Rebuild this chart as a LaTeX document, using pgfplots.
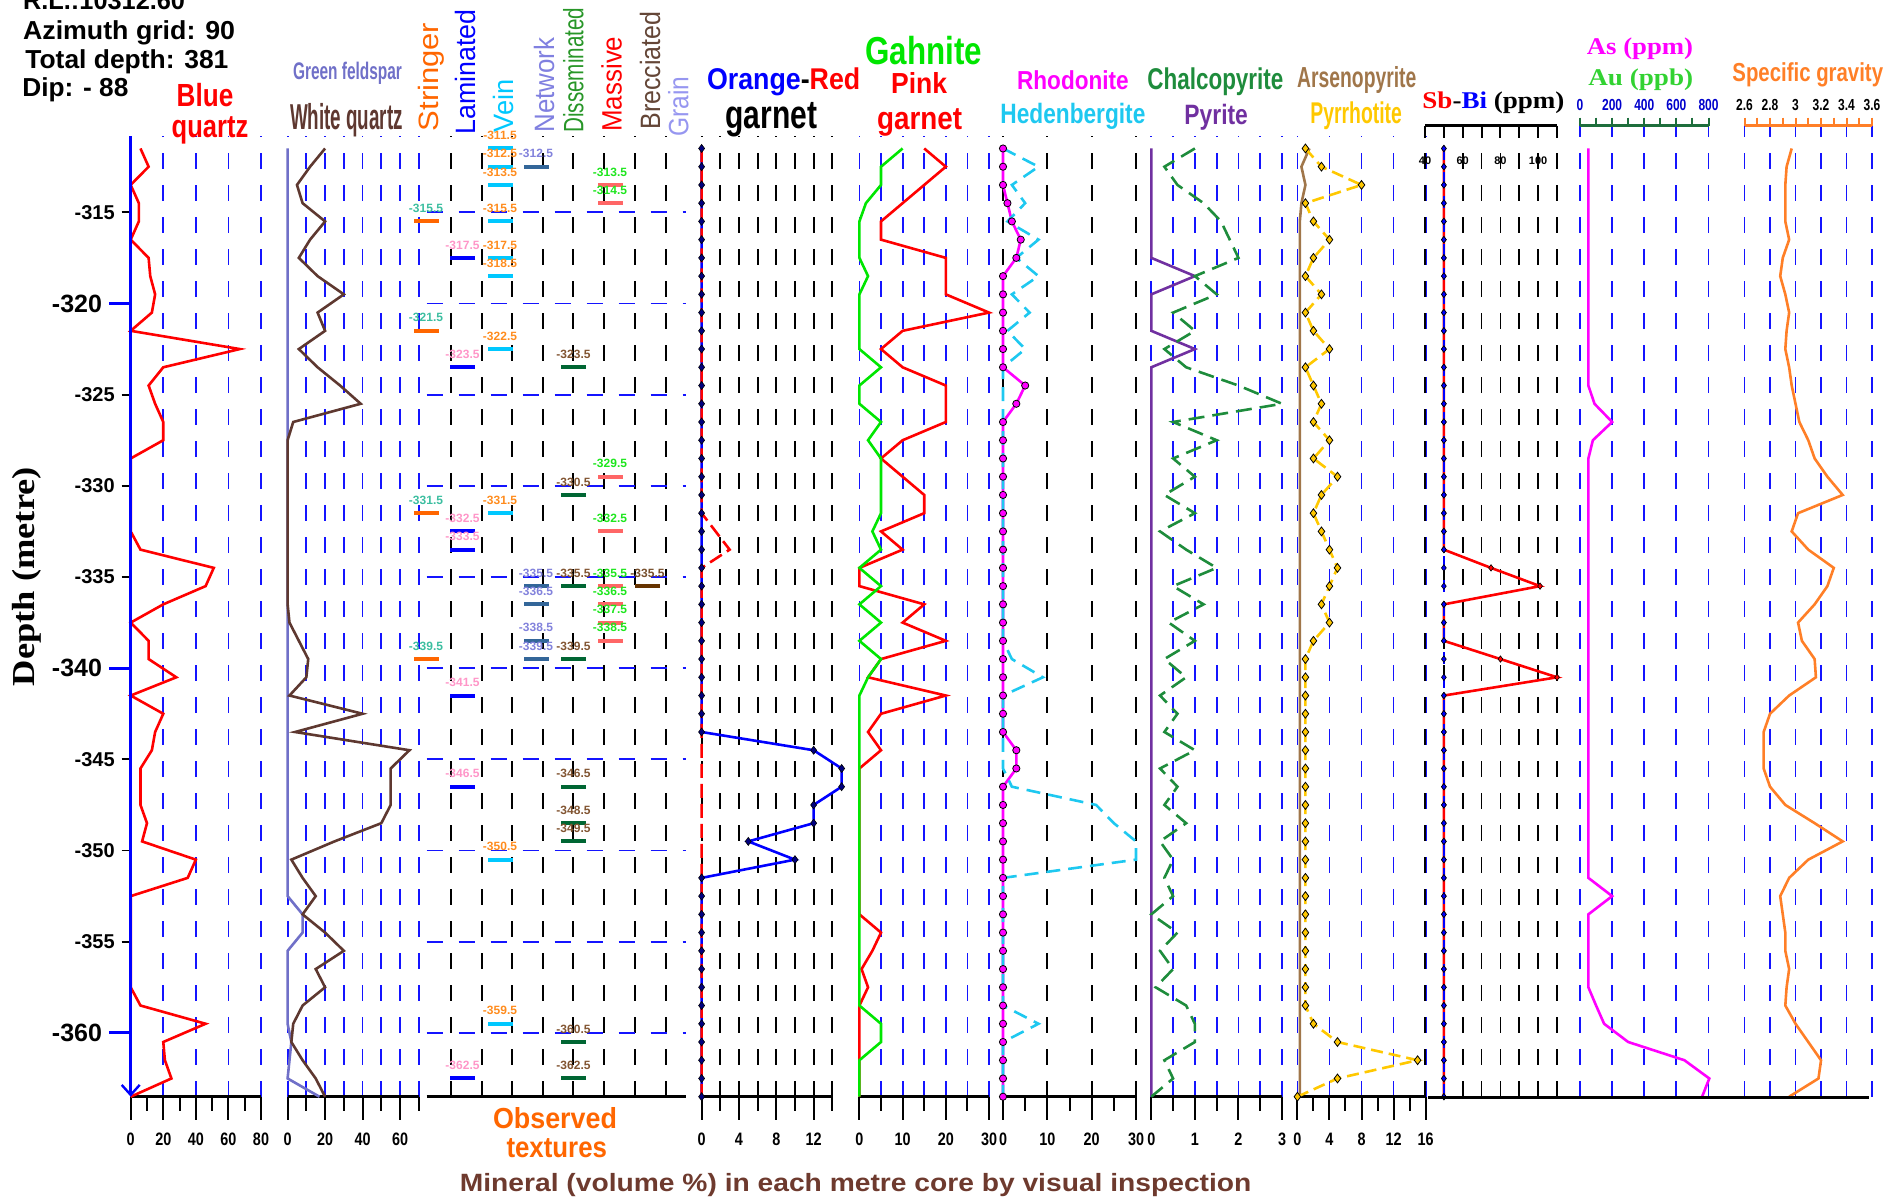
\documentclass[border=0pt]{standalone}
\usepackage{fontspec}
\setmainfont{Liberation Sans}
\newfontfamily\tnr{Liberation Serif}
\usepackage{graphicx}
\usepackage{pgfplots}
\usepackage{pgfplotstable}
\pgfplotsset{compat=1.18}
\usetikzlibrary{arrows.meta}

% squeeze a text to a given width, keeping its height
\newcommand{\fw}[2]{\resizebox{#1}{\height}{#2}}

\definecolor{gridblue}{RGB}{20,20,255}
\definecolor{mag}{RGB}{255,0,255}
\definecolor{wqbrown}{RGB}{94,56,48}
\definecolor{gfpurple}{RGB}{112,112,200}
\definecolor{strO}{RGB}{255,102,0}
\definecolor{lamB}{RGB}{0,0,255}
\definecolor{veinC}{RGB}{0,200,255}
\definecolor{netB}{RGB}{51,102,153}
\definecolor{disG}{RGB}{0,102,51}
\definecolor{masR}{RGB}{255,102,102}
\definecolor{breB}{RGB}{102,51,0}
\definecolor{strL}{RGB}{60,190,160}
\definecolor{lamL}{RGB}{255,150,200}
\definecolor{veinL}{RGB}{255,140,30}
\definecolor{netL}{RGB}{130,130,220}
\definecolor{disL}{RGB}{130,85,50}
\definecolor{masL}{RGB}{30,230,30}
\definecolor{breL}{RGB}{120,80,45}
\definecolor{netH}{RGB}{128,128,224}
\definecolor{disH}{RGB}{40,150,40}
\definecolor{breH}{RGB}{100,70,55}
\definecolor{graH}{RGB}{150,150,240}
\definecolor{gahG}{RGB}{0,230,0}
\definecolor{hedC}{RGB}{30,200,240}
\definecolor{ccpG}{RGB}{30,140,60}
\definecolor{pyP}{RGB}{112,48,160}
\definecolor{apyB}{RGB}{160,118,74}
\definecolor{poY}{RGB}{255,200,0}
\definecolor{auG}{RGB}{50,210,50}
\definecolor{sgO}{RGB}{255,127,39}
\definecolor{minB}{RGB}{110,58,46}
\definecolor{asAx}{RGB}{30,110,60}

% depth (m) and volume % of each mineral, one row per metre of core
\pgfplotstableread{
d      bq wq gf
-311.5 6  20 0
-312.5 11 12 0
-313.5 0  5  0
-314.5 5  8  0
-315.5 5  20 0
-316.5 0  12 0
-317.5 11 6  0
-318.5 12 16 0
-319.5 15 30 0
-320.5 13 16 0
-321.5 0  20 0
-322.5 67 6  0
-323.5 20 16 0
-324.5 11 28 0
-325.5 15 39 0
-326.5 20 3  0
-327.5 20 0  0
-328.5 0  0  0
-329.5 0  0  0
-330.5 0  0  0
-331.5 0  0  0
-332.5 0  0  0
-333.5 6  0  0
-334.5 51 0  0
-335.5 46 0  0
-336.5 20 0  0
-337.5 0  1  0
-338.5 11 6  0
-339.5 11 11 0
-340.5 28 10 0
-341.5 0  1  0
-342.5 20 40 0
-343.5 15 4  0
-344.5 13 65 0
-345.5 6  55 0
-346.5 6  55 0
-347.5 6  55 0
-348.5 10 50 0
-349.5 7  25 0
-350.5 40 2  0
-351.5 35 8  0
-352.5 0  15 0
-353.5 0  8  8
-354.5 0  20 8
-355.5 0  30 0
-356.5 0  15 0
-357.5 0  20 0
-358.5 6  8  0
-359.5 46 3  0
-360.5 20 2  2
-361.5 21 8  1
-362.5 25 15 0
-363.5 0  20 17
}\quartz

\pgfplotstableread{
d      og rg  gah pg
-311.5 0  0   10  15
-312.5 0  0   5   20
-313.5 0  0   5   15
-314.5 0  0   1.5 10
-315.5 0  0   0   5
-316.5 0  0   0   5
-317.5 0  0   0   20
-318.5 0  0   2   20
-319.5 0  0   0   20
-320.5 0  0   0   30
-321.5 0  0   0   10
-322.5 0  0   0   5
-323.5 0  0   5   10
-324.5 0  0   0   20
-325.5 0  0   0   20
-326.5 0  0   5   20
-327.5 0  0   2   10
-328.5 0  0   5   5
-329.5 0  0   5   10
-330.5 0  0   5   15
-331.5 0  0   5   15
-332.5 0  1.5 3   5
-333.5 0  3   5   10
-334.5 0  0   0   0
-335.5 0  0   5   0
-336.5 0  0   0   15
-337.5 0  0   5   10
-338.5 0  0   0   20
-339.5 0  0   5   5
-340.5 0  0   2   2
-341.5 0  0   0   20
-342.5 0  0   0   5
-343.5 0  0   0   2
-344.5 12 0   0   5
-345.5 15 0   0   0
-346.5 15 0   0   0
-347.5 12 0   0   0
-348.5 12 0   0   0
-349.5 5  0   0   0
-350.5 10 0   0   0
-351.5 0  0   0   0
-352.5 0  0   0   0
-353.5 0  0   0   0
-354.5 0  0   0   5
-355.5 0  0   0   3
-356.5 0  0   0   0.5
-357.5 0  0   0   2
-358.5 0  0   0   0
-359.5 0  0   5   0
-360.5 0  0   5   0
-361.5 0  0   0   0
-362.5 0  0   0   0
-363.5 0  0   0   0
}\garnet

\pgfplotstableread{
d      rho hed
-311.5 0   0
-312.5 0   8
-313.5 0   2
-314.5 1   5
-315.5 2   1
-316.5 4   8
-317.5 3   3
-318.5 0   8
-319.5 0   2
-320.5 0   6
-321.5 0   1
-322.5 0   5
-323.5 0   0
-324.5 5   0
-325.5 3   0
-326.5 0   0
-327.5 0   0
-328.5 0   0
-329.5 0   0
-330.5 0   0
-331.5 0   0
-332.5 0   0
-333.5 0   0
-334.5 0   0
-335.5 0   0
-336.5 0   0
-337.5 0   0
-338.5 0   0
-339.5 0   2
-340.5 0   9
-341.5 0   0
-342.5 0   0
-343.5 0   0
-344.5 3   0
-345.5 3   0
-346.5 0   2
-347.5 0   21
-348.5 0   25
-349.5 0   30
-350.5 0   30
-351.5 0   0
-352.5 0   0
-353.5 0   0
-354.5 0   0
-355.5 0   0
-356.5 0   0
-357.5 0   0
-358.5 0   0
-359.5 0   8
-360.5 0   0
-361.5 0   0
-362.5 0   0
-363.5 0   0
}\silic

\pgfplotstableread{
d      ccp py apy po
-311.5 1   0  1.5 1
-312.5 0.3 0  0.5 3
-313.5 0.6 0  1   8
-314.5 1.2 0  0.5 1
-315.5 1.6 0  0.3 2
-316.5 1.8 0  0.3 4
-317.5 2   0  0.3 2
-318.5 1   1  0.3 1
-319.5 1.5 0  0.3 3
-320.5 0.5 0  0.3 1
-321.5 1   0  0.3 2
-322.5 0.3 1  0.3 4
-323.5 0.8 0  0.3 1
-324.5 2   0  0.3 2
-325.5 3   0  0.3 3
-326.5 0.5 0  0.3 2
-327.5 1.5 0  0.3 4
-328.5 0.5 0  0.3 2
-329.5 1   0  0.3 5
-330.5 0.3 0  0.3 3
-331.5 1   0  0.3 2
-332.5 0.2 0  0.3 3
-333.5 0.8 0  0.3 4
-334.5 1.5 0  0.3 5
-335.5 0.5 0  0.3 4
-336.5 1.2 0  0.3 3
-337.5 0.4 0  0.3 4
-338.5 1   0  0.3 2
-339.5 0.3 0  0.3 1
-340.5 0.8 0  0.3 1
-341.5 0.2 0  0.3 1
-342.5 0.6 0  0.3 1
-343.5 0.3 0  0.3 1
-344.5 1   0  0.3 1
-345.5 0.2 0  0.3 1
-346.5 0.6 0  0.3 1
-347.5 0.3 0  0.3 1
-348.5 0.8 0  0.3 1
-349.5 0.2 0  0.3 1
-350.5 0.5 0  0.3 1
-351.5 0.3 0  0.3 1
-352.5 0.5 0  0.3 1
-353.5 0   0  0.3 1
-354.5 0.6 0  0.3 1
-355.5 0.2 0  0.3 1
-356.5 0.5 0  0.3 1
-357.5 0.1 0  0.3 1
-358.5 0.8 0  0.3 1
-359.5 1   0  0.3 2
-360.5 1   0  0.3 5
-361.5 0.3 0  0.3 15
-362.5 0.5 0  0.3 5
-363.5 0   0  0.3 0
}\sulph

\pgfplotstableread{
d      sb  bi as  sg
-311.5 50  50 52  2.97
-312.5 50  50 52  2.93
-313.5 50  50 52  2.92
-314.5 50  50 52  2.92
-315.5 50  50 52  2.92
-316.5 50  50 52  2.95
-317.5 50  50 52  2.90
-318.5 50  50 52  2.88
-319.5 50  50 52  2.92
-320.5 50  50 52  2.95
-321.5 50  50 52  2.93
-322.5 50  50 52  2.92
-323.5 50  50 52  2.95
-324.5 50  50 52  2.97
-325.5 50  50 90  3.00
-326.5 50  50 200 3.03
-327.5 50  50 80  3.10
-328.5 50  50 52  3.15
-329.5 50  50 52  3.25
-330.5 50  50 52  3.37
-331.5 50  50 52  3.02
-332.5 50  50 52  2.97
-333.5 50  50 52  3.10
-334.5 75  50 52  3.30
-335.5 101 50 52  3.25
-336.5 50  50 52  3.15
-337.5 50  50 52  3.02
-338.5 50  50 52  3.05
-339.5 80  50 52  3.15
-340.5 110 50 52  3.16
-341.5 50  50 52  2.95
-342.5 50  50 52  2.80
-343.5 50  50 52  2.75
-344.5 50  50 52  2.75
-345.5 50  50 52  2.75
-346.5 50  50 52  2.80
-347.5 50  50 52  2.92
-348.5 50  50 52  3.15
-349.5 50  50 52  3.37
-350.5 50  50 52  3.10
-351.5 50  50 52  2.95
-352.5 50  50 200 2.88
-353.5 50  50 52  2.90
-354.5 50  50 52  2.92
-355.5 50  50 52  2.92
-356.5 50  50 52  2.95
-357.5 50  50 52  2.93
-358.5 50  50 100 2.92
-359.5 50  50 150 3.00
-360.5 50  50 300 3.10
-361.5 50  50 650 3.20
-362.5 50  50 805 3.18
-363.5 50  50 760 2.95
}\geochem

\pgfplotsset{
  trk/.style={scale only axis, anchor=south west, height=480.5pt,
    ymin=-363.5, ymax=-310.8,
    axis x line*=bottom, axis y line*=left, y axis line style={draw=none}, ytick=\empty,
    x axis line style={line width=1.5pt, -}, tick align=outside,
    xtick style={black, line width=1pt}, major tick length=11.5pt, minor tick length=7pt,
    xticklabel style={font=\fontsize{9}{10}\selectfont\bfseries, xscale=0.8, yshift=-3pt},
    clip=false, every axis plot/.append style={line width=1.3pt}},
  topt/.style={scale only axis, anchor=south west, height=485.5pt,
    ymin=-363.5, ymax=-310.25,
    axis x line*=top, axis y line*=left, y axis line style={draw=none}, ytick=\empty,
    clip=false, every axis plot/.append style={line width=1.3pt}},
  bgrid/.style={major x grid style={gridblue, line width=0.9pt, dash pattern=on 8pt off 8pt},
    minor x grid style={gridblue, line width=0.9pt, dash pattern=on 8pt off 8pt}},
  kgrid/.style={major x grid style={black, line width=0.9pt, dash pattern=on 8pt off 8pt},
    minor x grid style={black, line width=0.9pt, dash pattern=on 8pt off 8pt}},
  tex/.style={only marks, mark=-, mark size=6.25pt, mark options={#1, line width=2pt},
    nodes near coords, point meta=explicit symbolic},
}

\begin{document}
\begin{tikzpicture}
\useasboundingbox (0,0) rectangle (952pt,-601.5pt);

% ---------- Blue quartz
\begin{axis}[trk, at={(65.35pt,-548.35pt)}, width=65.15pt, xmin=0, xmax=80,
  xtick={0,20,40,60,80}, minor xtick={10,30,50,70}, xticklabels={0,20,40,60,80},
  xmajorgrids, bgrid]
\addplot[red] table[x=bq, y=d] {\quartz};
\end{axis}
% depth scale, ordinary ticks
\begin{axis}[scale only axis, anchor=south west, at={(65.35pt,-548.35pt)},
  width=65.15pt, height=480.5pt, xmin=0, xmax=1, ymin=-363.5, ymax=-310.8,
  hide x axis, axis y line*=left, tick align=outside,
  y axis line style={blue, line width=1.5pt, {Straight Barb[length=5pt,width=9pt,line width=1.2pt]}-},
  major tick length=4.5pt, ytick style={black, line width=0.9pt},
  ytick={-315,-325,-330,-335,-345,-350,-355},
  yticklabels={-315,-325,-330,-335,-345,-350,-355},
  yticklabel style={font=\fontsize{10}{11}\selectfont\bfseries}]
\end{axis}
% depth scale, every 20 m
\begin{axis}[scale only axis, anchor=south west, at={(65.35pt,-548.35pt)},
  width=65.15pt, height=480.5pt, xmin=0, xmax=1, ymin=-363.5, ymax=-310.8,
  hide x axis, axis y line*=left, tick align=outside,
  y axis line style={draw=none},
  major tick length=10.8pt, ytick style={blue, line width=1.6pt},
  ytick={-320,-340,-360}, yticklabels={-320,-340,-360},
  yticklabel style={font=\fontsize{12.5}{13}\selectfont\bfseries}]
\end{axis}

% ---------- White quartz / green feldspar
\begin{axis}[trk, at={(143.8pt,-548.35pt)}, width=65.6pt, xmin=0, xmax=70,
  xtick={0,20,40,60}, minor xtick={10,30,50,70}, xticklabels={0,20,40,60},
  xmajorgrids, xminorgrids, bgrid]
\addplot[gfpurple] table[x=gf, y=d] {\quartz};
\addplot[wqbrown] table[x=wq, y=d] {\quartz};
\end{axis}

% ---------- Observed textures
\begin{axis}[trk, at={(213.25pt,-548.35pt)}, width=129.75pt, xmin=426.5, xmax=686,
  xtick={450.7,481.7,511.7,542.7,573.3,604,635,666}, xticklabels={},
  xtick style={draw=none}, xmajorgrids,
  major x grid style={black, line width=0.9pt, dash pattern=on 8pt off 8pt},
  ytick={-360,-355,...,-315}, yticklabels={}, ytick style={draw=none}, ymajorgrids,
  major y grid style={gridblue, line width=0.9pt, dash pattern=on 8pt off 8pt},
  every node near coord/.append style={font=\fontsize{6}{7}\selectfont\bfseries,
    anchor=center, yshift=6.5pt, inner sep=0pt}]
\addplot[tex=strO, every node near coord/.append style={text=strL}] table[meta=t] {
x   y      t
426 -315.5 -315.5
426 -321.5 -321.5
426 -331.5 -331.5
426 -339.5 -339.5
};
\addplot[tex=lamB, every node near coord/.append style={text=lamL}] table[meta=t] {
x     y      t
462.5 -317.5 -317.5
462.5 -323.5 -323.5
462.5 -332.5 -332.5
462.5 -333.5 -333.5
462.5 -341.5 -341.5
462.5 -346.5 -346.5
462.5 -362.5 -362.5
};
\addplot[tex=veinC, every node near coord/.append style={text=veinL}] table[meta=t] {
x   y      t
500 -311.5 -311.5
500 -312.5 -312.5
500 -313.5 -313.5
500 -315.5 -315.5
500 -317.5 -317.5
500 -318.5 -318.5
500 -322.5 -322.5
500 -331.5 -331.5
500 -350.5 -350.5
500 -359.5 -359.5
};
\addplot[tex=netB, every node near coord/.append style={text=netL}] table[meta=t] {
x   y      t
536 -312.5 -312.5
536 -335.5 -335.5
536 -336.5 -336.5
536 -338.5 -338.5
536 -339.5 -339.5
};
\addplot[tex=disG, every node near coord/.append style={text=disL}] table[meta=t] {
x     y      t
573.5 -323.5 -323.5
573.5 -330.5 -330.5
573.5 -335.5 -335.5
573.5 -339.5 -339.5
573.5 -346.5 -346.5
573.5 -348.5 -348.5
573.5 -349.5 -349.5
573.5 -360.5 -360.5
573.5 -362.5 -362.5
};
\addplot[tex=masR, every node near coord/.append style={text=masL}] table[meta=t] {
x   y      t
610 -313.5 -313.5
610 -314.5 -314.5
610 -329.5 -329.5
610 -332.5 -332.5
610 -335.5 -335.5
610 -336.5 -336.5
610 -337.5 -337.5
610 -338.5 -338.5
};
\addplot[tex=breB, every node near coord/.append style={text=breL}] table[meta=t] {
x     y      t
647.5 -335.5 -335.5
};
\end{axis}

% ---------- Orange-Red garnet
\begin{axis}[trk, at={(350.8pt,-548.35pt)}, width=65.35pt, xmin=0, xmax=14,
  xtick={0,4,8,12}, minor xtick={2,6,10,14}, xticklabels={0,4,8,12},
  xmajorgrids, xminorgrids, kgrid]
\addplot[blue, mark=diamond*, mark size=2pt,
  mark options={draw=black, fill=blue!50!black, line width=0.3pt}]
  table[x=og, y=d] {\garnet};
\addplot[red, dash pattern=on 7pt off 3pt] table[x=rg, y=d] {\garnet};
\end{axis}

% ---------- Gahnite / pink garnet
\begin{axis}[trk, at={(429.7pt,-548.35pt)}, width=64.8pt, xmin=0, xmax=30,
  xtick={0,10,20,30}, minor xtick={5,15,25}, xticklabels={0,10,20,30},
  xmajorgrids, xminorgrids, bgrid]
\addplot[red] table[x=pg, y=d] {\garnet};
\addplot[gahG] table[x=gah, y=d] {\garnet};
\end{axis}

% ---------- Rhodonite / hedenbergite
\begin{axis}[trk, at={(501.5pt,-548.35pt)}, width=66.5pt, xmin=0, xmax=30,
  xtick={0,10,20,30}, minor xtick={5,15,25}, xticklabels={0,10,20,30},
  xmajorgrids, kgrid]
\addplot[mag, mark=*, mark size=1.8pt,
  mark options={fill=mag, draw=black, line width=0.4pt}]
  table[x=rho, y=d] {\silic};
\addplot[hedC, dash pattern=on 7pt off 4pt] table[x=hed, y=d] {\silic};
\end{axis}

% ---------- Chalcopyrite / pyrite
\begin{axis}[trk, at={(575.65pt,-548.35pt)}, width=65.35pt, xmin=0, xmax=3,
  xtick={0,1,2,3}, minor xtick={0.5,1.5,2.5}, xticklabels={0,1,2,3},
  xmajorgrids, xminorgrids, bgrid]
\addplot[pyP] table[x=py, y=d] {\sulph};
\addplot[ccpG, dash pattern=on 8pt off 4pt] table[x=ccp, y=d] {\sulph};
\end{axis}

% ---------- Arsenopyrite / pyrrhotite
\begin{axis}[trk, at={(648.7pt,-548.35pt)}, width=64.1pt, xmin=0, xmax=16,
  xtick={0,4,8,12,16}, minor xtick={2,6,10,14}, xticklabels={0,4,8,12,16},
  xmajorgrids, bgrid]
\addplot[apyB] table[x=apy, y=d] {\sulph};
\addplot[poY, dash pattern=on 6pt off 3pt, mark=diamond*, mark size=2.2pt,
  mark options={solid, fill=poY, draw=black, line width=0.4pt}]
  table[x=po, y=d] {\sulph};
\end{axis}

% ---------- Sb-Bi
\begin{axis}[topt, at={(712.5pt,-548.35pt)}, width=66pt, xmin=40, xmax=110,
  xtick={40,60,80,100}, minor xtick={50,70,90,110}, xticklabels={40,60,80,100},
  tick align=inside, major tick length=6pt, minor tick length=6pt,
  x axis line style={line width=1.5pt, -}, xtick style={black, line width=1pt},
  xmajorgrids, xminorgrids, kgrid,
  xticklabel style={font=\fontsize{5.5}{6}\selectfont\bfseries, anchor=north, yshift=-12pt}]
\addplot[red, mark=diamond*, mark size=1.6pt,
  mark options={fill=red, draw=black, line width=0.3pt}] table[x=sb, y=d] {\geochem};
\addplot[blue, dash pattern=on 6pt off 6pt, mark=diamond*, mark size=1.6pt,
  mark options={solid, fill=blue, draw=black, line width=0.3pt}] table[x=bi, y=d] {\geochem};
\end{axis}

% ---------- As / Au
\begin{axis}[topt, at={(790pt,-548.35pt)}, width=64.25pt, xmin=0, xmax=800,
  xtick={0,200,400,600,800}, minor xtick={100,300,500,700},
  xticklabels={0,200,400,600,800},
  tick align=outside, major tick length=4pt, minor tick length=4pt,
  x axis line style={asAx, line width=1.5pt, -}, xtick style={asAx, line width=1pt},
  xmajorgrids, bgrid,
  xticklabel style={font=\fontsize{8}{9}\selectfont\bfseries, text=blue!80!black, xscale=0.75}]
\addplot[mag] table[x=as, y=d] {\geochem};
\end{axis}

% ---------- Specific gravity
\begin{axis}[topt, at={(872.25pt,-548.35pt)}, width=63.75pt, xmin=2.6, xmax=3.6,
  xtick={2.6,2.8,3,3.2,3.4,3.6}, minor xtick={2.7,2.9,3.1,3.3,3.5},
  xticklabels={2.6,2.8,3,3.2,3.4,3.6},
  tick align=outside, major tick length=4pt, minor tick length=4pt,
  x axis line style={sgO, line width=1.5pt, -}, xtick style={sgO, line width=1pt},
  xmajorgrids, bgrid,
  xticklabel style={font=\fontsize{8}{9}\selectfont\bfseries, xscale=0.75}]
\addplot[sgO] table[x=sg, y=d] {\geochem};
\end{axis}

% ---------- titles and captions (coordinates in pixels of a 1904 x 1203 page)
\begin{scope}[x=0.5pt, y=-0.5pt]
\draw[line width=1.5pt] (1428,1097) -- (1869,1097);

\begin{scope}[every node/.style={inner sep=0pt}]
\node[anchor=base west] at (22.7,10) {\fontsize{13}{14}\selectfont\bfseries\fw{81pt}{R.L.:10312.60}};
\node[anchor=base west] at (22.7,40) {\fontsize{13}{14}\selectfont\bfseries\fw{106pt}{Azimuth grid: 90}};
\node[anchor=base west] at (25,68.3) {\fontsize{13}{14}\selectfont\bfseries\fw{101.5pt}{Total depth: 381}};
\node[anchor=base west] at (22,96.5) {\fontsize{13}{14}\selectfont\bfseries\fw{53pt}{Dip: - 88}};

\node[anchor=base, text=red] at (205,106.7) {\fontsize{16}{17}\selectfont\bfseries\fw{28.3pt}{Blue}};
\node[anchor=base, text=red] at (210,138) {\fontsize{16}{17}\selectfont\bfseries\fw{38.3pt}{quartz}};
\node[anchor=base, text=gfpurple] at (347.5,80) {\fontsize{12}{13}\selectfont\bfseries\fw{54.5pt}{Green feldspar}};
\node[anchor=base, text=wqbrown] at (346.5,130) {\fontsize{18}{19}\selectfont\bfseries\fw{56.5pt}{White quartz}};

\node[rotate=90, anchor=west, text=strO] at (431.7,131.7) {\fontsize{14}{15}\selectfont\fw{54.3pt}{Stringer}};
\node[rotate=90, anchor=west, text=lamB] at (465,135) {\fontsize{14}{15}\selectfont\fw{62.5pt}{Laminated}};
\node[rotate=90, anchor=west, text=veinC] at (503.3,133) {\fontsize{14}{15}\selectfont\fw{26.5pt}{Vein}};
\node[rotate=90, anchor=west, text=netH] at (544,133) {\fontsize{14}{15}\selectfont\fw{47.5pt}{Network}};
\node[rotate=90, anchor=west, text=disH] at (573.3,133) {\fontsize{14}{15}\selectfont\fw{62.5pt}{Disseminated}};
\node[rotate=90, anchor=west, text=red] at (611.7,132) {\fontsize{14}{15}\selectfont\fw{47.5pt}{Massive}};
\node[rotate=90, anchor=west, text=breH] at (650,130) {\fontsize{14}{15}\selectfont\fw{59pt}{Brecciated}};
\node[rotate=90, anchor=west, text=graH] at (678.3,137) {\fontsize{14}{15}\selectfont\fw{30pt}{Grain}};

\node[anchor=base west] at (706.7,90) {\fontsize{15}{16}\selectfont\bfseries\fw{76.6pt}{\textcolor{blue}{Orange}-\textcolor{red}{Red}}};
\node[anchor=base west] at (725,128.3) {\fontsize{20}{21}\selectfont\bfseries\fw{45.85pt}{garnet}};
\node[anchor=base west, text=gahG] at (865,65) {\fontsize{19.5}{20}\selectfont\bfseries\fw{58.35pt}{Gahnite}};
\node[anchor=base west, text=red] at (890.7,93.3) {\fontsize{14.5}{15}\selectfont\bfseries\fw{28pt}{Pink}};
\node[anchor=base west, text=red] at (876.7,130) {\fontsize{16}{17}\selectfont\bfseries\fw{42.5pt}{garnet}};
\node[anchor=base west, text=mag] at (1016.7,90) {\fontsize{13}{14}\selectfont\bfseries\fw{55.8pt}{Rhodonite}};
\node[anchor=base west, text=hedC] at (1000,123.3) {\fontsize{14}{15}\selectfont\bfseries\fw{72.5pt}{Hedenbergite}};
\node[anchor=base west, text=ccpG] at (1147,90) {\fontsize{15}{16}\selectfont\bfseries\fw{68pt}{Chalcopyrite}};
\node[anchor=base west, text=pyP] at (1184,125) {\fontsize{14}{15}\selectfont\bfseries\fw{31.75pt}{Pyrite}};
\node[anchor=base west, text=apyB] at (1296.8,87.3) {\fontsize{14.5}{15}\selectfont\bfseries\fw{59.6pt}{Arsenopyrite}};
\node[anchor=base west, text=poY] at (1310,123.3) {\fontsize{15}{16}\selectfont\bfseries\fw{45.75pt}{Pyrrhotite}};
\node[anchor=base west] at (1422,108.3) {\tnr\fontsize{12}{13}\selectfont\bfseries\fw{71pt}{\textcolor{red}{Sb}-\textcolor{blue}{Bi} (ppm)}};
\node[anchor=base west, text=mag] at (1586.5,55) {\tnr\fontsize{12}{13}\selectfont\bfseries\fw{53.1pt}{As (ppm)}};
\node[anchor=base west, text=auG] at (1588,86) {\tnr\fontsize{12}{13}\selectfont\bfseries\fw{52.35pt}{Au (ppb)}};
\node[anchor=base west, text=sgO] at (1732,81.7) {\fontsize{13}{14}\selectfont\bfseries\fw{75.35pt}{Specific gravity}};

\node[anchor=base, text=strO] at (555,1128.3) {\fontsize{14.5}{15}\selectfont\bfseries\fw{62pt}{Observed}};
\node[anchor=base, text=strO] at (556.75,1157) {\fontsize{14.5}{15}\selectfont\bfseries\fw{50.25pt}{textures}};
\node[anchor=base west, text=minB] at (459.5,1191.7) {\fontsize{12.5}{13}\selectfont\bfseries\fw{395.75pt}{Mineral (volume \%) in each metre core by visual inspection}};
\node[rotate=90] at (27,576.5) {\tnr\fontsize{16}{17}\selectfont\bfseries\fw{109.5pt}{Depth (metre)}};
\end{scope}
\end{scope}
\end{tikzpicture}
\end{document}
